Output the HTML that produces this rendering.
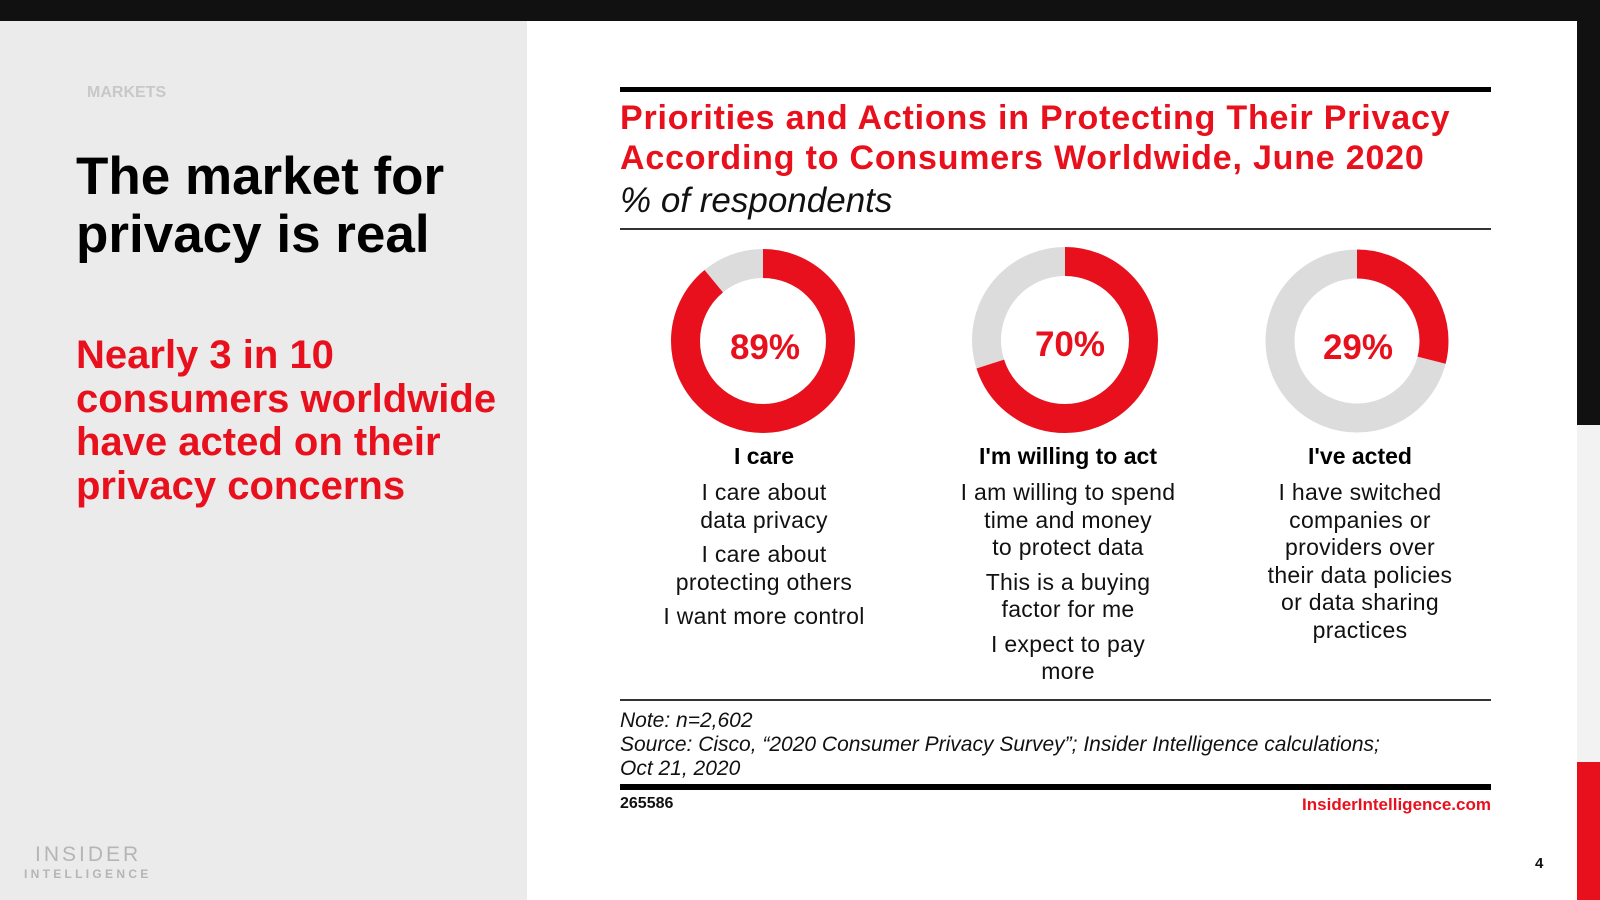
<!DOCTYPE html>
<html><head><meta charset="utf-8"><style>
*{margin:0;padding:0;box-sizing:border-box}
body{width:1600px;height:900px;position:relative;overflow:hidden;background:#fff;font-family:"Liberation Sans",Arial,sans-serif}
.a{position:absolute;white-space:nowrap}
.c{text-align:center;transform:translateX(-50%)}
.body{font-size:23px;line-height:27.5px;color:#111;letter-spacing:0.3px}
.body p{margin-bottom:7px}
</style></head><body>
<div class="a" style="left:0;top:0;width:1600px;height:21px;background:#111"></div>
<div class="a" style="left:0;top:21px;width:527px;height:879px;background:#ebebeb"></div>
<div class="a" style="left:1577px;top:0;width:23px;height:425px;background:#111"></div>
<div class="a" style="left:1577px;top:425px;width:23px;height:337px;background:#f2f2f2"></div>
<div class="a" style="left:1577px;top:762px;width:23px;height:138px;background:#e8101c"></div>

<div class="a" style="left:87px;top:84px;font-size:16px;font-weight:bold;color:#c8c8c8">MARKETS</div>
<div class="a" style="left:76px;top:148px;font-size:53px;line-height:58px;font-weight:bold;color:#000">The market for<br>privacy is real</div>
<div class="a" style="left:76px;top:334px;font-size:40px;line-height:43.5px;font-weight:bold;color:#e8101c">Nearly 3 in 10<br>consumers worldwide<br>have acted on their<br>privacy concerns</div>
<div class="a" style="left:35px;top:843px;font-size:21px;letter-spacing:3px;color:#b5b5b5">INSIDER</div>
<div class="a" style="left:24px;top:867px;font-size:12px;letter-spacing:3.3px;color:#b5b5b5;font-weight:bold">INTELLIGENCE</div>

<div class="a" style="left:620px;top:87px;width:871px;height:5px;background:#000"></div>
<div class="a" style="left:620px;top:98px;font-size:34px;line-height:40px;font-weight:bold;color:#e8101c;letter-spacing:0.8px">Priorities and Actions in Protecting Their Privacy<br>According to Consumers Worldwide, June 2020</div>
<div class="a" style="left:620px;top:181px;font-size:35px;font-style:italic;color:#111">% of respondents</div>
<div class="a" style="left:620px;top:228px;width:871px;height:2px;background:#333"></div>

<svg class="a" style="left:0;top:0" width="1600" height="900">
<g fill="none" stroke-width="29">
<circle cx="763" cy="341" r="77.5" stroke="#dcdcdc"/>
<circle cx="763" cy="341" r="77.5" stroke="#e8101c" stroke-dasharray="433.4 1000" transform="rotate(-90 763 341)"/>
<circle cx="1065" cy="340" r="78.5" stroke="#dcdcdc"/>
<circle cx="1065" cy="340" r="78.5" stroke="#e8101c" stroke-dasharray="345.3 1000" transform="rotate(-90 1065 340)"/>
<circle cx="1357" cy="341" r="77" stroke="#dcdcdc"/>
<circle cx="1357" cy="341" r="77" stroke="#e8101c" stroke-dasharray="140.3 1000" transform="rotate(-90 1357 341)"/>
</g>
<g font-family="Liberation Sans, Arial, sans-serif" font-weight="bold" font-size="35" fill="#e8101c" text-anchor="middle">
<text x="765" y="359">89%</text><text x="1070" y="356">70%</text><text x="1358" y="359">29%</text>
</g>
</svg>

<div class="a c" style="left:764px;top:443px;font-size:23px;font-weight:bold">I care</div>
<div class="a c body" style="left:764px;top:479px"><p>I care about<br>data privacy</p><p>I care about<br>protecting others</p><p>I want more control</p></div>
<div class="a c" style="left:1068px;top:443px;font-size:23px;font-weight:bold">I'm willing to act</div>
<div class="a c body" style="left:1068px;top:479px"><p>I am willing to spend<br>time and money<br>to protect data</p><p>This is a buying<br>factor for me</p><p>I expect to pay<br>more</p></div>
<div class="a c" style="left:1360px;top:443px;font-size:23px;font-weight:bold">I've acted</div>
<div class="a c body" style="left:1360px;top:479px"><p>I have switched<br>companies or<br>providers over<br>their data policies<br>or data sharing<br>practices</p></div>

<div class="a" style="left:620px;top:699px;width:871px;height:2px;background:#333"></div>
<div class="a" style="left:620px;top:709px;font-size:21px;line-height:24px;font-style:italic;color:#111">Note: n=2,602<br>Source: Cisco, “2020 Consumer Privacy Survey”; Insider Intelligence calculations;<br>Oct 21, 2020</div>
<div class="a" style="left:620px;top:784px;width:871px;height:6px;background:#000"></div>
<div class="a" style="left:620px;top:795px;font-size:16px;font-weight:bold;color:#111">265586</div>
<div class="a" style="right:109px;top:795px;font-size:17px;font-weight:bold;color:#e8101c">InsiderIntelligence.com</div>
<div class="a" style="left:1535px;top:855px;font-size:15px;font-weight:bold;color:#111">4</div>
</body></html>
